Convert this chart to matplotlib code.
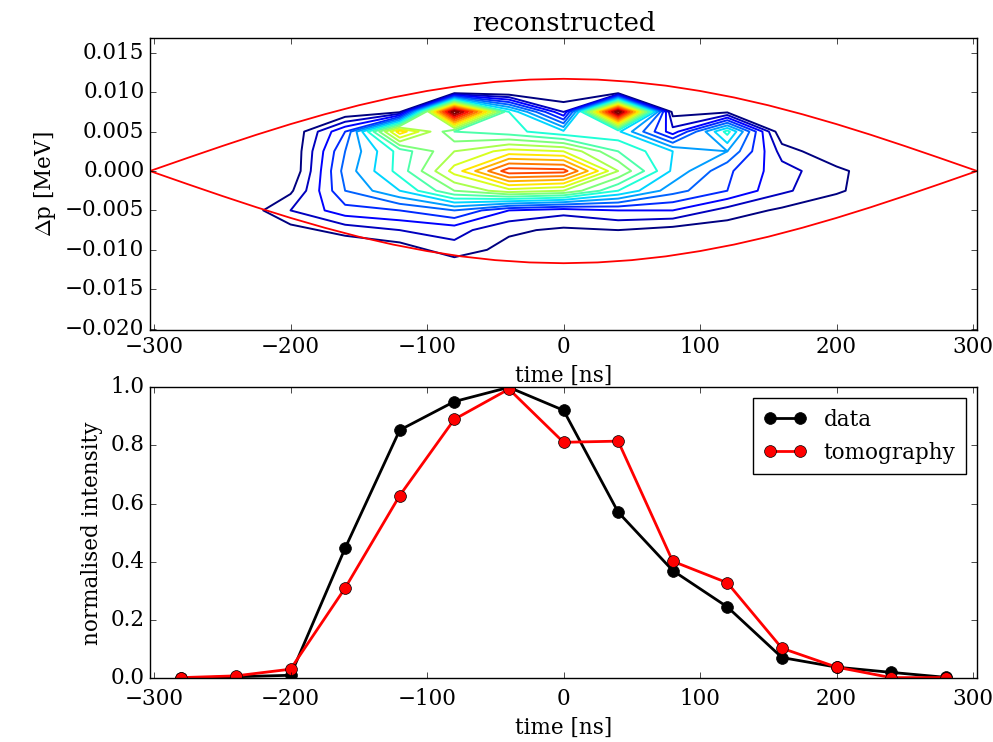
import matplotlib
matplotlib.use("Agg")
import matplotlib.pyplot as plt
import numpy as np

# bunch profile sampled every 40 ns
time_ns = [-280, -240, -200, -160, -120, -80, -40, 0, 40, 80, 120, 160, 200, 240, 280]
data_profile = [0.0, 0.005, 0.01, 0.447, 0.853, 0.951, 1.0, 0.921, 0.571, 0.370, 0.245, 0.071, 0.038, 0.020, 0.003]
tomo_profile = [0.002, 0.008, 0.031, 0.310, 0.628, 0.890, 0.994, 0.811, 0.815, 0.402, 0.328, 0.103, 0.038, 0.002, 0.002]

# reconstructed phase space density (rows: dp, columns: time_ns)
dp_grid = [-0.0125, -0.01, -0.0075, -0.005, -0.0025, 0.0, 0.0025, 0.005, 0.0075, 0.01, 0.0125]
density = [
    [0, 0, 0, 0, 0, 0, 0, 0, 0, 0, 0, 0, 0, 0, 0],
    [0, 0, 0, 0, 0.02, 0.08, 0.03, 0, 0, 0, 0, 0, 0, 0, 0],
    [0, 0, 0.03, 0.07, 0.10, 0.12, 0.06, 0.04, 0.05, 0.03, 0.02, 0, 0, 0, 0],
    [0, 0, 0.10, 0.18, 0.20, 0.25, 0.15, 0.12, 0.15, 0.15, 0.08, 0.04, 0, 0, 0],
    [0, 0, 0.04, 0.25, 0.35, 0.50, 0.58, 0.55, 0.40, 0.27, 0.20, 0.11, 0.06, 0, 0],
    [0, 0, 0, 0.27, 0.42, 0.62, 0.83, 0.82, 0.55, 0.34, 0.21, 0.12, 0.065, 0, 0],
    [0, 0, 0, 0.25, 0.42, 0.55, 0.62, 0.60, 0.45, 0.35, 0.30, 0.08, 0, 0, 0],
    [0, 0, 0, 0.20, 0.68, 0.45, 0.42, 0.36, 0.36, 0.12, 0.42, 0, 0, 0, 0],
    [0, 0, 0, 0, 0.04, 1.00, 0.40, 0.10, 1.00, 0.03, 0.04, 0, 0, 0, 0],
    [0, 0, 0, 0, 0, 0, 0, 0, 0, 0, 0, 0, 0, 0, 0],
    [0, 0, 0, 0, 0, 0, 0, 0, 0, 0, 0, 0, 0, 0, 0],
]

# separatrix, upper half (lower half is the mirror image)
sep_t = [-303, -275, -250, -225, -200, -175, -150, -125, -100, -75, -50, -25, 0,
         25, 50, 75, 100, 125, 150, 175, 200, 225, 250, 275, 303]
sep_dp = [0.0, 0.00169, 0.00317, 0.0046, 0.00595, 0.0072, 0.00834, 0.00933, 0.01016, 0.01083, 0.01131, 0.0116, 0.0117,
          0.0116, 0.01131, 0.01083, 0.01016, 0.00933, 0.00834, 0.0072, 0.00595, 0.0046, 0.00317, 0.00169, 0.0]

plt.style.use('classic')
plt.rcParams['font.family'] = 'serif'
plt.rcParams['font.serif'] = ['DejaVu Serif']
plt.rcParams['font.size'] = 15.5
plt.rcParams['legend.fontsize'] = 'medium'
plt.rcParams['figure.facecolor'] = 'white'
plt.rcParams['savefig.facecolor'] = 'white'

fig = plt.figure(figsize=(9.93, 7.42), dpi=100)
ax1 = fig.add_axes([0.151, 0.555, 0.833, 0.394])
ax2 = fig.add_axes([0.151, 0.086, 0.833, 0.392])

# top: phase space contours + separatrix
levels = np.linspace(0.05, 0.95, 19)
ax1.contour(time_ns, dp_grid, np.array(density), levels=levels, cmap='jet', linewidths=1.4)
ax1.plot(sep_t, sep_dp, 'r-', lw=1.3)
ax1.plot(sep_t, [-v for v in sep_dp], 'r-', lw=1.3)
ax1.set_xlim(-303, 303)
ax1.set_ylim(-0.0202, 0.0169)
ax1.set_yticks(np.arange(-0.02, 0.0151, 0.005))
ax1.set_xlabel('time [ns]')
ax1.set_ylabel(r'$\Delta$p [MeV]')
ax1.set_title('reconstructed')

# bottom: projected profiles
ax2.plot(time_ns, data_profile, 'ko-', lw=2, ms=8.5, label='data')
ax2.plot(time_ns, tomo_profile, 'o-', color='red', mfc='red', lw=2, ms=8.5, label='tomography')
ax2.set_xlim(-303, 303)
ax2.set_ylim(0, 1)
ax2.tick_params(axis='x', pad=7)
ax2.set_xlabel('time [ns]')
ax2.set_ylabel('normalised intensity')
ax2.legend(loc='upper right', borderpad=0.5, handletextpad=0.8)

fig.savefig('out.png', dpi=100)
